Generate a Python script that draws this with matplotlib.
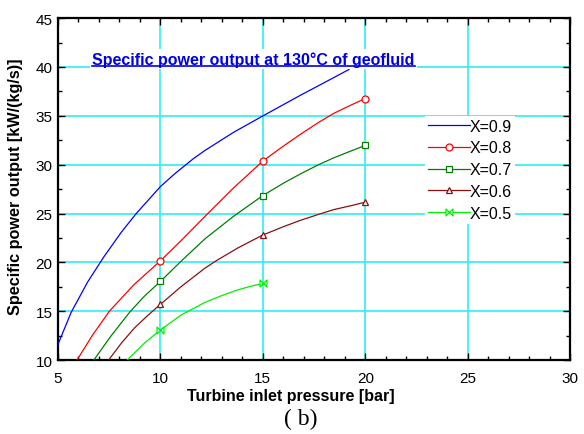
import numpy as np
import matplotlib
matplotlib.use('Agg')
import matplotlib.pyplot as plt
from matplotlib.path import Path
from matplotlib.ticker import MultipleLocator

# data (turbine inlet pressure [bar] vs specific power [kW/(kg/s)])
x09 = [4.98, 5.64, 6.45, 7.25, 8.09, 8.82, 10.0, 10.7, 11.6, 12.17, 13.56, 15.0, 16.83, 18.0, 19.2]
y09 = [11.5, 14.87, 18.0, 20.6, 23.08, 25.0, 27.76, 29.07, 30.6, 31.45, 33.3, 34.99, 37.1, 38.4, 39.74]

x08 = [5.93, 6.7, 7.51, 8.7, 10.0, 11.0, 12.17, 13.56, 15.0, 16.0, 16.83, 17.7, 18.46, 19.3, 20.0]
y08 = [10.0, 12.6, 15.0, 17.7, 20.16, 22.2, 24.7, 27.6, 30.37, 31.9, 33.1, 34.3, 35.25, 36.1, 36.77]

x07 = [6.75, 7.6, 8.5, 9.2, 10.0, 11.0, 12.17, 13.56, 15.0, 16.0, 16.83, 17.7, 18.46, 19.3, 20.0]
y07 = [10.0, 12.5, 14.9, 16.5, 18.05, 20.1, 22.4, 24.7, 26.84, 28.1, 29.05, 29.98, 30.7, 31.4, 31.97]

x06 = [7.47, 8.1, 8.74, 9.4, 10.0, 11.0, 12.17, 12.75, 13.8, 15.0, 16.0, 16.83, 17.7, 18.46, 19.3, 20.0]
y06 = [10.0, 11.75, 13.3, 14.6, 15.7, 17.5, 19.4, 20.2, 21.5, 22.8, 23.65, 24.3, 24.9, 25.4, 25.8, 26.16]

x05 = [8.38, 9.2, 10.0, 11.0, 12.17, 13.0, 13.8, 14.5, 15.0]
y05 = [10.0, 11.7, 13.08, 14.6, 15.9, 16.6, 17.2, 17.6, 17.84]

marked_x = [10.0, 15.0, 20.0]   # markers only sit on these pressures

labels = ['X=0.9', 'X=0.8', 'X=0.7', 'X=0.6', 'X=0.5']

bowtie = Path([(-1, 1), (-1, -1), (1, 1), (1, -1), (-1, 1)],
              [Path.MOVETO, Path.LINETO, Path.LINETO, Path.LINETO, Path.CLOSEPOLY])

series = [
    (x09, y09, '#0000FF', None),
    (x08, y08, '#FF0000', 'o'),
    (x07, y07, '#007F00', 's'),
    (x06, y06, '#8B1010', '^'),
    (x05, y05, '#00F000', bowtie),
]

plt.rcParams['font.family'] = ['Liberation Sans', 'DejaVu Sans']

fig = plt.figure(figsize=(5.84, 4.35), dpi=100)
ax = fig.add_axes([0.0993, 0.170, 0.877, 0.786])

for (xs, ys, col, mk), lab in zip(series, labels):
    idx = [i for i, v in enumerate(xs) if v in marked_x]
    ax.plot(xs, ys, color=col, lw=0.9, marker=mk, markevery=idx if mk is not None else None,
            ms=5, mfc='white', mec=col, mew=0.9, label=lab, zorder=3)

ax.set_xlim(5, 30)
ax.set_ylim(10, 45)
ax.xaxis.set_major_locator(MultipleLocator(5))
ax.xaxis.set_minor_locator(MultipleLocator(1))
ax.yaxis.set_major_locator(MultipleLocator(5))
ax.yaxis.set_minor_locator(MultipleLocator(2.5))
ax.tick_params(which='both', direction='in', top=True, right=True, labelsize=11)
ax.tick_params(axis='x', which='major', pad=8)
ax.tick_params(axis='y', which='major', pad=4)
ax.tick_params(which='major', length=5, width=1)
ax.tick_params(which='minor', length=3, width=1)
ax.grid(which='major', color='#30EEEE', lw=1.2, zorder=0)
for s in ax.spines.values():
    s.set_linewidth(1.6)

ax.set_xlabel('Turbine inlet pressure [bar]', fontsize=11.5, fontweight='bold', labelpad=2, x=0.455)
ax.set_ylabel('Specific power output [kW/(kg/s)]', fontsize=11.7, fontweight='bold')
ax.yaxis.set_label_coords(-0.068, 0.51)

title_y = 40.3
title = ax.text(6.68, title_y, 'Specific power output at 130\u00b0C of geofluid', color='#0000E6',
                fontsize=11.5, fontweight='bold', va='baseline', ha='left', zorder=4,
                bbox=dict(facecolor='white', edgecolor='none', pad=1.5))

leg = ax.legend(loc='upper left', bbox_to_anchor=(0.717, 0.715), frameon=True, fontsize=11.5,
                handlelength=2.6, handletextpad=0.0, labelspacing=0.42, borderpad=0.2,
                borderaxespad=0, fancybox=False)
leg.get_frame().set_edgecolor('none')
leg.get_frame().set_facecolor('white')
leg.get_frame().set_alpha(1)

# underline the blue title, just under its baseline
fig.canvas.draw()
bb = title.get_window_extent()
base = ax.transData.transform((0, title_y))[1] - 1.5
x0, y0 = ax.transAxes.inverted().transform((bb.x0, base))
x1, _ = ax.transAxes.inverted().transform((bb.x1, base))
ax.plot([x0, x1], [y0, y0], transform=ax.transAxes,
        color='#0000E6', lw=1.2, zorder=5, clip_on=False)

fig.text(0.515, 0.024, '( b)', fontsize=17, family='Liberation Serif', ha='center', va='baseline')

fig.savefig('out.png', dpi=100)
